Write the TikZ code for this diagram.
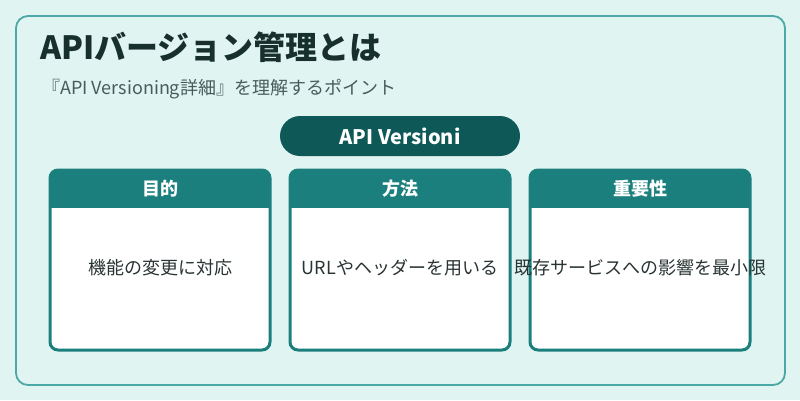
\documentclass[tikz,border=0pt]{standalone}
\usepackage{fontspec}
\setmainfont{Noto Sans CJK JP}
\definecolor{bgc}{HTML}{E0F4F2}
\definecolor{outer}{HTML}{4BA8A6}
\definecolor{pillc}{HTML}{0E5957}
\definecolor{hdrc}{HTML}{1B807D}
\definecolor{titlec}{HTML}{17302E}
\definecolor{subc}{HTML}{4A5B5B}
\definecolor{bodyc}{HTML}{2A3434}
\begin{document}
\begin{tikzpicture}[x=1pt,y=-1pt,
  titlestyle/.style={anchor=west,inner sep=0,text=titlec,font=\fontsize{32}{36}\selectfont\bfseries},
  substyle/.style={anchor=west,inner sep=0,text=subc,font=\fontsize{18}{21}\selectfont},
  pillstyle/.style={fill=pillc,rounded corners=20pt,minimum width=240pt,minimum height=40pt,inner sep=0,text=white,font=\fontsize{20}{22}\selectfont\bfseries},
  hdrtext/.style={text=white,inner sep=0,font=\fontsize{18}{20}\selectfont\bfseries},
  bodytext/.style={text=bodyc,inner sep=0,font=\fontsize{18}{21}\selectfont},
  cardline/.style={draw=hdrc,line width=3pt,rounded corners=8pt}]
\fill[bgc] (0,0) rectangle (800,400);
\useasboundingbox (0,0) rectangle (800,400);
\draw[outer,line width=1.8pt,rounded corners=12pt] (16,16) rectangle (785,385);
\node[titlestyle] (title) at (40,47) {APIバージョン管理とは};
\node[substyle] (sub) at (42,89.5) {『API Versioning詳細』を理解するポイント};
\node[pillstyle] (pill) at (400,136) {API Versioni};
\foreach \i/\xa/\h/\b in {1/50/目的/機能の変更に対応,2/290/方法/URLやヘッダーを用いる,3/530/重要性/既存サービスへの影響を最小限}{
  \fill[white,rounded corners=8pt] (\xa,170) rectangle (\xa+220,350);
  \begin{scope}
    \clip (\xa-5,165) rectangle (\xa+225,207);
    \fill[hdrc,rounded corners=8pt] (\xa,170) rectangle (\xa+220,350);
  \end{scope}
  \draw[cardline] (\xa,170) rectangle (\xa+220,350);
  \node[hdrtext] (h\i) at (\xa+110,189) {\h};
  \node[bodytext] (b\i) at (\xa+110,268) {\b};
}
\end{tikzpicture}
\end{document}
